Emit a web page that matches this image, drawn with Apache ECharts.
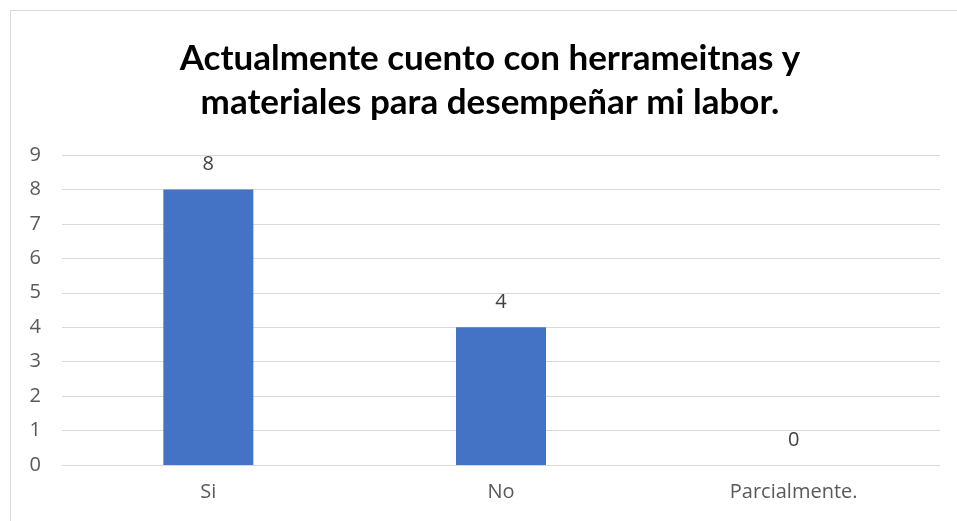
<!DOCTYPE html>
<html><head><meta charset="utf-8">
<script src="https://cdn.jsdelivr.net/npm/echarts@6/dist/echarts.min.js"></script>
<style>
html,body{margin:0;padding:0;background:#fff;}
#wrap{position:relative;width:957px;height:521px;overflow:hidden;}
#frame{position:absolute;left:10px;top:10px;width:1000px;height:600px;border:1px solid #d9d9d9;box-sizing:border-box;}
#c{position:absolute;left:0;top:0;width:957px;height:521px;}
</style></head>
<body><div id="wrap"><div id="frame"></div><div id="c"></div></div>
<script>
const titleText = "Actualmente cuento con herrameitnas y\nmateriales para desempeñar mi labor.";
const categories = ["Si", "No", "Parcialmente."];
const values = [8, 4, 0];
const yTicks = {min: 0, max: 9, interval: 1};

const chart = echarts.init(document.getElementById('c'), null, {renderer: 'canvas'});
chart.setOption({
  backgroundColor: 'transparent',
  animation: false,
  title: {
    text: titleText,
    left: 485,
    textAlign: 'center',
    top: 32,
    textStyle: {fontFamily: 'Lato', fontWeight: 'bold', fontSize: 35, color: '#000', lineHeight: 44}
  },
  grid: {left: 62, right: 17, top: 155, bottom: 56, containLabel: false},
  xAxis: {
    type: 'category',
    data: categories,
    axisLine: {show: true, lineStyle: {color: '#d9d9d9', width: 1}},
    axisTick: {show: false},
    axisLabel: {color: '#595959', fontSize: 20, fontFamily: 'Open Sans', margin: 17}
  },
  yAxis: {
    type: 'value',
    min: yTicks.min, max: yTicks.max, interval: yTicks.interval,
    axisLine: {show: false},
    axisTick: {show: false},
    axisLabel: {color: '#595959', fontSize: 20, fontFamily: 'Open Sans', margin: 21, align: 'right'},
    splitLine: {lineStyle: {color: '#d9d9d9', width: 1}}
  },
  series: [{
    type: 'bar',
    data: values,
    barWidth: 90,
    itemStyle: {color: '#4472C4'},
    label: {show: true, position: 'top', distance: 15, color: '#404040', fontSize: 20, fontFamily: 'Open Sans'}
  }]
});
</script></body></html>
